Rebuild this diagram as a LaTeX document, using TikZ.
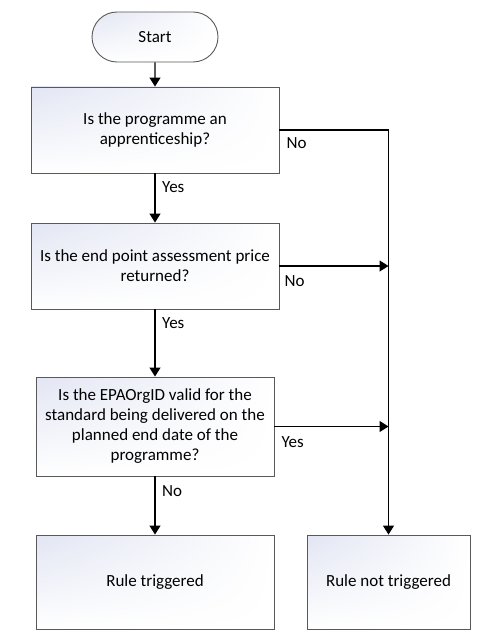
\documentclass[tikz,border=0pt]{standalone}
\usepackage{fontspec}
\setmainfont{Carlito}
\usetikzlibrary{calc,positioning,arrows.meta,shapes.misc,shadings}
\definecolor{boxtint}{RGB}{226,229,243}
\definecolor{boxline}{RGB}{89,89,89}

\begin{document}
\begin{tikzpicture}[x=1pt,y=-1pt,
    box/.style={draw=boxline, line width=0.9pt, shade,
      upper left=boxtint, upper right=white, lower left=white, lower right=white,
      inner sep=0pt, align=center, font=\fontsize{17}{20}\selectfont},
    answer/.style={inner sep=0pt, font=\fontsize{17}{20}\selectfont},
    flow/.style={line width=1.2pt, -{Triangle[length=9pt,width=11pt]}}]
  \useasboundingbox (0,0) rectangle (499,639);

  % terminal and questions
  \node[box, rounded rectangle, minimum width=126pt, minimum height=50pt] (start) at (155,37) {Start};
  \node[box, minimum width=248pt, minimum height=86pt] (q1) at (155,130)
    {Is the programme an\\apprenticeship?};
  \node[box, minimum width=248pt, minimum height=86pt] (q2) at (155,266)
    {Is the end point assessment price\\returned?};
  \node[box, minimum width=238pt, minimum height=99pt] (q3) at (155,426.5)
    {Is the EPAOrgID valid for the\\standard being delivered on the\\planned end date of the\\programme?};

  % outcomes
  \node[box, minimum width=238pt, minimum height=94pt] (hit) at (155,582) {Rule triggered};
  \node[box, minimum width=163pt, minimum height=94pt] (miss) at (388.5,582) {Rule not triggered};

  % connectors
  \draw[flow] (start) -- (q1);
  \draw[flow] (q1) -- (q2);
  \draw[flow] (q2) -- (q3);
  \draw[flow] (q3) -- (hit);
  \draw[flow] (q1.east) -- (q1.east -| miss.north) -- (miss.north);
  \foreach \q in {q2,q3}
    \draw[flow] (\q.east) -- (\q.east -| miss.north);

  % answers
  \node[answer, below right=7.5pt and 7pt of q1.east, anchor=north west] (q1no) {No};
  \node[answer, below right=7.5pt and 7pt of q1.south, anchor=north west] (q1yes) {Yes};
  \node[answer, below right=9.5pt and 5pt of q2.east, anchor=north west] (q2no) {No};
  \node[answer, below right=7.5pt and 7pt of q2.south, anchor=north west] (q2yes) {Yes};
  \node[answer, below right=10pt and 7pt of q3.east, anchor=north west] (q3yes) {Yes};
  \node[answer, below right=8.5pt and 7pt of q3.south, anchor=north west] (q3no) {No};
\end{tikzpicture}
\end{document}
